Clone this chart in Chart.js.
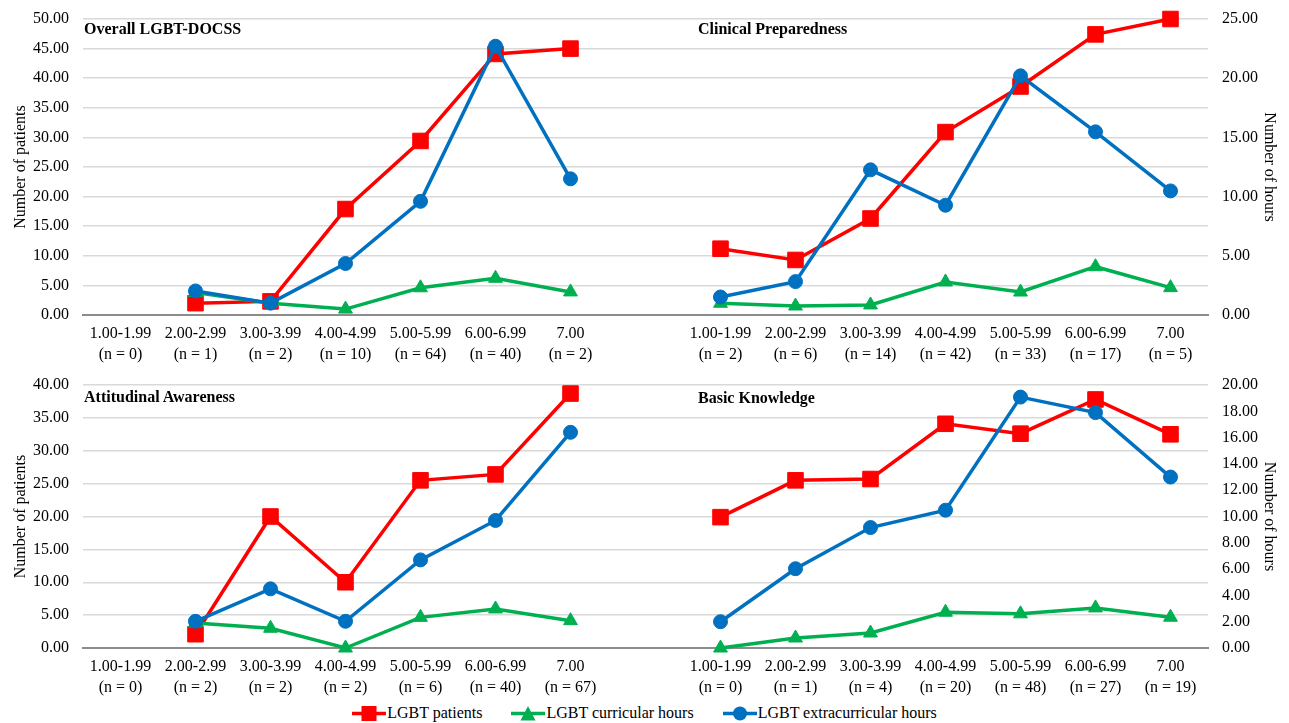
<!DOCTYPE html>
<html lang="en">
<head>
    <meta charset="UTF-8">
    <title>LGBT-DOCSS by patients and hours</title>
    <script src="https://cdn.jsdelivr.net/npm/chart.js@4/dist/chart.umd.min.js"></script>
    <style>
        body {
            margin: 0;
            width: 1289px;
            height: 723px;
            background: #fff;
            font-family: 'Liberation Serif', 'Times New Roman', serif;
            position: relative;
            overflow: hidden;
        }
        .row {
            position: absolute;
            left: 0;
            width: 1289px;
        }
        .panel-title {
            position: absolute;
            font-weight: bold;
            font-size: 16px;
            color: #000;
            white-space: nowrap;
        }
        #legend {
            position: absolute;
            left: 0;
            top: 704px;
            width: 1289px;
            display: flex;
            justify-content: center;
            font-size: 16px;
            color: #000;
        }
        .legend-item {
            display: flex;
            align-items: center;
            margin: 0 14.5px;
        }
        .legend-item svg { margin-right: 1px; }
    </style>
</head>
<body>
    <div class="row" style="top:0;height:366px"><canvas id="topChart"></canvas></div>
    <div class="row" style="top:366px;height:333px"><canvas id="bottomChart"></canvas></div>

    <div class="panel-title" style="left:84px;top:20px">Overall LGBT-DOCSS</div>
    <div class="panel-title" style="left:698px;top:20px">Clinical Preparedness</div>
    <div class="panel-title" style="left:84px;top:388px">Attitudinal Awareness</div>
    <div class="panel-title" style="left:698px;top:389px">Basic Knowledge</div>

    <div id="legend"></div>

    <script>
        // score ranges shared by every panel
        const ranges = ['1.00-1.99', '2.00-2.99', '3.00-3.99', '4.00-4.99', '5.00-5.99', '6.00-6.99', '7.00'];

        // n per range
        const nOverall = [0, 1, 2, 10, 64, 40, 2];
        const nClinical = [2, 6, 14, 42, 33, 17, 5];
        const nAttitudinal = [0, 2, 2, 2, 6, 40, 67];
        const nBasic = [0, 1, 4, 20, 48, 27, 19];

        // patients (left axis), hours (right axis)
        const overallPatients = [null, 2.0, 2.3, 17.9, 29.4, 44.1, 45.0];
        const overallCurricular = [null, 1.9, 1.0, 0.5, 2.3, 3.1, 1.95];
        const overallExtra = [null, 2.03, 1.0, 4.35, 9.6, 22.7, 11.5];

        const clinicalPatients = [11.2, 9.3, 16.3, 30.9, 38.6, 47.4, 50.0];
        const clinicalCurricular = [0.99, 0.76, 0.85, 2.79, 1.94, 4.08, 2.31];
        const clinicalExtra = [1.52, 2.82, 12.26, 9.27, 20.2, 15.47, 10.48];

        const attitudinalPatients = [null, 2.1, 20.0, 10.0, 25.5, 26.4, 38.7];
        const attitudinalCurricular = [null, 1.9, 1.5, 0, 2.33, 2.97, 2.08];
        const attitudinalExtra = [null, 2.03, 4.5, 2.03, 6.7, 9.7, 16.4];

        const basicPatients = [19.9, 25.5, 25.7, 34.1, 32.6, 37.8, 32.5];
        const basicCurricular = [0, 0.76, 1.14, 2.72, 2.6, 3.05, 2.34];
        const basicExtra = [2.0, 6.03, 9.16, 10.48, 19.08, 17.9, 13.0];

        const seriesNames = ['LGBT patients', 'LGBT curricular hours', 'LGBT extracurricular hours'];
        const RED = '#ff0000', GREEN = '#00b050', BLUE = '#0070c0';

        const FONT = "'Liberation Serif', 'Times New Roman', serif";

        // two panels side by side in one chart, empty slot between them
        function labelsFor(nLeft, nRight) {
            const l = ranges.map((r, i) => [r, '(n = ' + nLeft[i] + ')']);
            const r = ranges.map((r, i) => [r, '(n = ' + nRight[i] + ')']);
            return l.concat([['', '']], r);
        }
        function join(a, b) {
            return a.concat([null], b);
        }

        function makeRow(id, labels, patients, curricular, extra, yMax, yStep, y2Max, y2Step) {
            const common = { borderWidth: 3.5, tension: 0, spanGaps: false, clip: false, pointBorderWidth: 1 };
            new Chart(document.getElementById(id), {
                type: 'line',
                data: {
                    labels: labels,
                    datasets: [
                        Object.assign({
                            label: seriesNames[0], data: patients, yAxisID: 'y', order: 2,
                            borderColor: RED, backgroundColor: RED, pointStyle: 'rect', pointRadius: 11
                        }, common),
                        Object.assign({
                            label: seriesNames[1], data: curricular, yAxisID: 'y2', order: 1,
                            borderColor: GREEN, backgroundColor: GREEN, pointStyle: 'triangle', pointRadius: 8
                        }, common),
                        Object.assign({
                            label: seriesNames[2], data: extra, yAxisID: 'y2', order: 0,
                            borderColor: BLUE, backgroundColor: BLUE, pointStyle: 'circle', pointRadius: 7
                        }, common)
                    ]
                },
                options: {
                    responsive: true,
                    maintainAspectRatio: false,
                    animation: false,
                    layout: { padding: { top: 19, left: 0, right: 0, bottom: 0 } },
                    plugins: { legend: { display: false }, tooltip: { enabled: false } },
                    scales: {
                        x: {
                            offset: true,
                            grid: { display: false },
                            border: { display: true, color: '#8c8c8c', width: 2 },
                            ticks: {
                                autoSkip: false, maxRotation: 0, padding: 0, color: '#000',
                                font: { family: FONT, size: 16, lineHeight: 1.32 }
                            },
                            afterFit: axis => { axis.height = 51; }
                        },
                        y: {
                            position: 'left',
                            min: 0, max: yMax,
                            grid: {
                                drawTicks: false,
                                color: ctx => ctx.tick && ctx.tick.value === 0 ? '#8c8c8c' : '#d9d9d9',
                                lineWidth: ctx => ctx.tick && ctx.tick.value === 0 ? 2 : 1.5
                            },
                            border: { display: false },
                            ticks: {
                                stepSize: yStep, padding: 14, color: '#000',
                                font: { family: FONT, size: 16 },
                                callback: v => v.toFixed(2)
                            },
                            title: {
                                display: true, text: 'Number of patients', color: '#000',
                                font: { family: FONT, size: 16 }, padding: { top: 11, bottom: 0 }
                            },
                            afterFit: axis => { axis.width = 83; axis.paddingTop = 0; axis.paddingBottom = 0; }
                        },
                        y2: {
                            position: 'right',
                            min: 0, max: y2Max,
                            grid: { display: false, drawTicks: false },
                            border: { display: false },
                            ticks: {
                                stepSize: y2Step, padding: 14, color: '#000',
                                font: { family: FONT, size: 16 },
                                callback: v => v.toFixed(2)
                            },
                            title: {
                                display: true, text: 'Number of hours', color: '#000',
                                font: { family: FONT, size: 16 }, padding: { top: 10, bottom: 0 }
                            },
                            afterFit: axis => { axis.width = 81; axis.paddingTop = 0; axis.paddingBottom = 0; }
                        }
                    }
                }
            });
        }

        makeRow('topChart', labelsFor(nOverall, nClinical),
            join(overallPatients, clinicalPatients),
            join(overallCurricular, clinicalCurricular),
            join(overallExtra, clinicalExtra),
            50, 5, 25, 5);

        makeRow('bottomChart', labelsFor(nAttitudinal, nBasic),
            join(attitudinalPatients, basicPatients),
            join(attitudinalCurricular, basicCurricular),
            join(attitudinalExtra, basicExtra),
            40, 5, 20, 2);

        // legend: line with marker, like the source figure
        const markers = [
            c => '<rect x="9.5" y="1" width="15" height="15" fill="' + c + '"/>',
            c => '<polygon points="17,1 24.5,15.5 9.5,15.5" fill="' + c + '"/>',
            c => '<circle cx="17" cy="8.5" r="7" fill="' + c + '"/>'
        ];
        const legendColors = [RED, GREEN, BLUE];
        document.getElementById('legend').innerHTML = seriesNames.map((name, i) =>
            '<div class="legend-item"><svg width="34" height="17">' +
            '<line x1="0" y1="8.5" x2="34" y2="8.5" stroke="' + legendColors[i] + '" stroke-width="3.5"/>' +
            markers[i](legendColors[i]) + '</svg><span>' + name + '</span></div>'
        ).join('');
    </script>
</body>
</html>
